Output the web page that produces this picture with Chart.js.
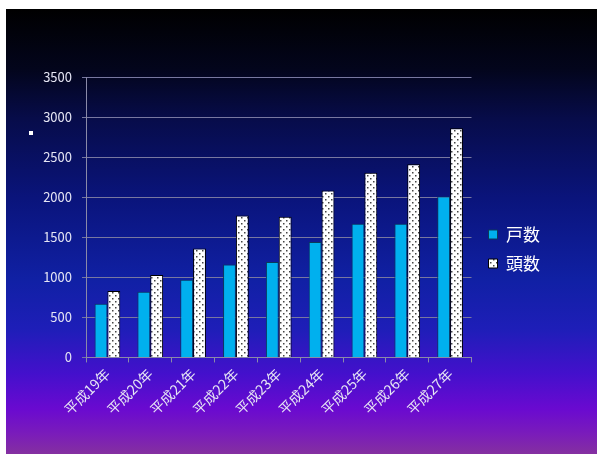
<!DOCTYPE html>
<html>
<head>
<meta charset="utf-8">
<script src="https://cdn.jsdelivr.net/npm/chart.js@4/dist/chart.umd.min.js"></script>
<style>
  html, body { margin: 0; padding: 0; background: #fff; }
  #bg {
    position: absolute; left: 6px; top: 9px; width: 591px; height: 445px;
    background: linear-gradient(to bottom,
      #000000 0px, #03051c 60px, #070c4a 110px, #0a147c 190px,
      #1020a4 270px, #1e1eb8 320px, #4410cc 365px, #6a0ad0 400px, #7a1cba 425px, #8430a0 445px);
  }
  #wrap { position: absolute; left: 0; top: 0; width: 602px; height: 454px; }
</style>
</head>
<body>
<div id="bg"></div>
<div id="wrap"><canvas id="canvas" width="602" height="454"></canvas></div>
<script>
// data
var years = ['平成19年', '平成20年', '平成21年', '平成22年', '平成23年', '平成24年', '平成25年', '平成26年', '平成27年'];
var households = [670, 820, 970, 1160, 1190, 1440, 1670, 1670, 2010];  // 戸数
var heads = [830, 1030, 1360, 1770, 1755, 2085, 2305, 2410, 2860];     // 頭数

var fontFam = '"Noto Sans CJK JP", "Noto Sans", sans-serif';
var textColor = '#e6e6f4';

// white with dark dots, like the office "dotted" fill
function dotPattern() {
	var c = document.createElement('canvas');
	c.width = 6; c.height = 6;
	var g = c.getContext('2d');
	g.fillStyle = '#ffffff';
	g.fillRect(0, 0, 6, 6);
	g.fillStyle = '#444444';
	g.fillRect(1, 1, 1.5, 1.5);
	g.fillRect(4, 4, 1.5, 1.5);
	return g.createPattern(c, 'repeat');
}

var squareMark = {
	id: 'squareMark',
	afterDraw: function (chart) {
		var ctx = chart.ctx;
		ctx.save();
		ctx.fillStyle = '#ffffff';
		ctx.fillRect(29, 131, 4, 4);
		ctx.restore();
	}
};

var ctx = document.getElementById('canvas').getContext('2d');
window.myBar = new Chart(ctx, {
	type: 'bar',
	data: {
		labels: years,
		datasets: [{
			label: '戸数',
			data: households,
			backgroundColor: '#00b0ee',
			borderColor: '#0a3a5a',
			borderWidth: 1,
			categoryPercentage: 0.6,
			barPercentage: 1.0
		}, {
			label: '頭数',
			data: heads,
			backgroundColor: dotPattern(),
			borderColor: '#000000',
			borderWidth: 1,
			categoryPercentage: 0.6,
			barPercentage: 1.0
		}]
	},
	options: {
		responsive: false,
		animation: false,
		layout: { padding: { left: 40, top: 77, right: 52, bottom: 33 } },
		plugins: {
			title: { display: false },
			tooltip: { enabled: false },
			legend: {
				position: 'right',
				labels: {
					color: '#ffffff',
					boxWidth: 9,
					boxHeight: 9,
					padding: 12,
					font: { family: fontFam, size: 17 }
				}
			}
		},
		scales: {
			x: {
				grid: { drawOnChartArea: false, color: '#8a8aa8', tickLength: 5, offset: true },
				border: { color: '#8a8aa8' },
				ticks: {
					color: textColor,
					maxRotation: 45, minRotation: 45,
					font: { family: fontFam, size: 14 }
				}
			},
			y: {
				min: 0, max: 3500,
				ticks: {
					stepSize: 500,
					color: textColor,
					padding: 10,
					font: { family: fontFam, size: 13 },
					callback: function (v) { return String(v); }
				},
				grid: { color: '#7878a0', tickLength: 4 },
				border: { color: '#8a8aa8' },
				afterFit: function (s) { s.width = 46; }
			},
			// empty spacer between plot and legend
			gap: {
				type: 'linear',
				position: 'right',
				display: true,
				grid: { display: false },
				border: { display: false },
				ticks: { display: false },
				afterFit: function (s) { s.width = 5; }
			}
		}
	},
	plugins: [squareMark]
});
</script>
</body>
</html>
